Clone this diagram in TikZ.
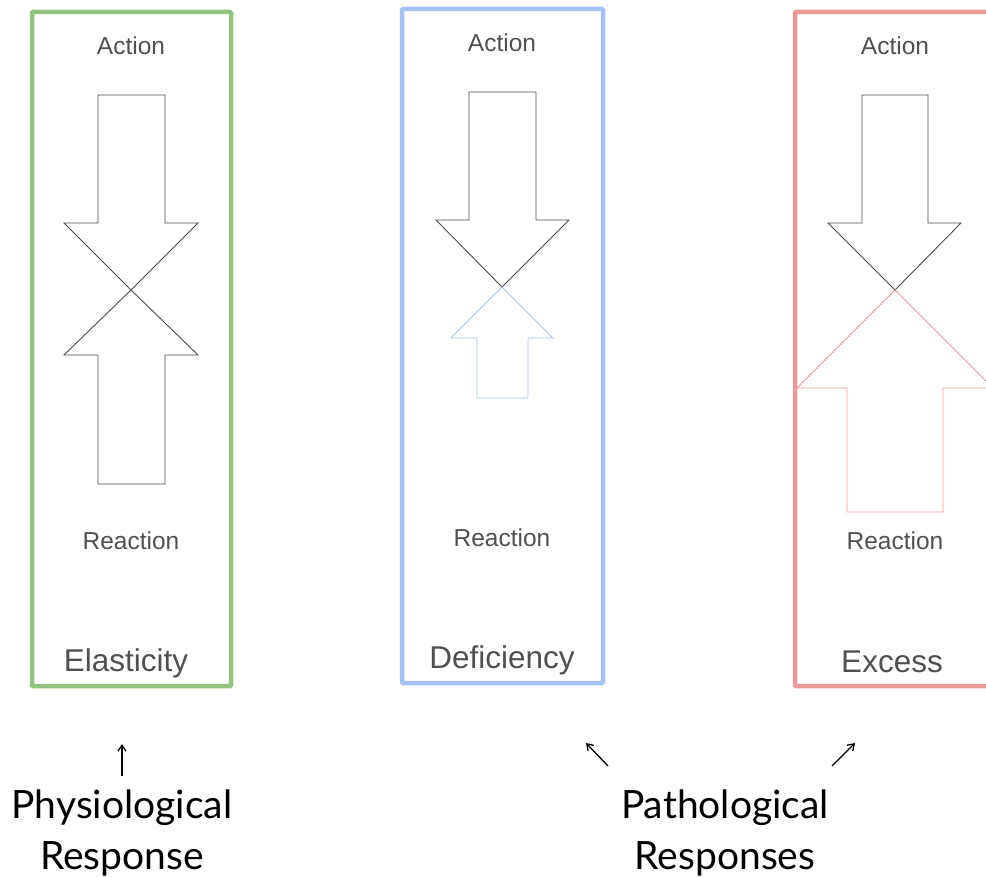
\documentclass[tikz,border=0pt]{standalone}
\usepackage{fontspec}
\setmainfont{Liberation Sans}
\newfontfamily\capfont{Lato}
\usetikzlibrary{arrows.meta}
\definecolor{elascol}{RGB}{147,196,125}
\definecolor{deficol}{RGB}{164,194,244}
\definecolor{excecol}{RGB}{234,153,153}
\definecolor{textgray}{RGB}{80,80,80}

\begin{document}
\begin{tikzpicture}[x=1pt,y=-1pt,
    frame/.style={line width=4.5pt,rounded corners=1pt},
    arrowshape/.style={line width=0.9pt,line join=miter},
    small/.style={font=\fontsize{24.5}{28}\selectfont,text=textgray},
    title/.style={font=\fontsize{31.5}{36}\selectfont,text=textgray},
    caption/.style={font=\capfont\fontsize{39}{51}\selectfont,align=center},
    pointer/.style={-{Straight Barb[length=6pt,width=8pt]},line width=1.3pt}]
  \useasboundingbox (0,0) rectangle (986,877);
  \clip (0,0) rectangle (986,877);
  % elasticity
  \draw[frame,elascol](32,12) rectangle (231,686);
  \draw[arrowshape,black!70](98,95)--(165,95)--(165,223)--(198,223)--(131,290)
    --(64,223)--(98,223)--cycle;
  \draw[arrowshape,black!70](131,290)--(198,355)--(165,355)--(165,484)--(98,484)
    --(98,355)--(64,355)--cycle;
  \node[small] (actA) at (131,46){Action};
  \node[small] (reactA) at (131,541){Reaction};
  \node[title] (elas) at (126,663){Elasticity};
  % deficiency
  \draw[frame,deficol](402,9) rectangle (603,683);
  \draw[arrowshape,black!70](469,92)--(536,92)--(536,220)--(569,220)--(502,287)
    --(436,220)--(469,220)--cycle;
  \draw[arrowshape,deficol](502,287)--(553,338)--(528,338)--(528,398)--(477,398)
    --(477,338)--(451,338)--cycle;
  \node[small] (actB) at (502,43){Action};
  \node[small] (reactB) at (502,538){Reaction};
  \node[title] (defi) at (502,660){Deficiency};
  % excess
  \draw[frame,excecol](795,12) rectangle (1000,686);
  \draw[arrowshape,black!70](862,95)--(928,95)--(928,223)--(961,223)--(895,290)
    --(828,223)--(862,223)--cycle;
  \draw[arrowshape,excecol](895,290)--(993,388)--(943,388)--(943,512)--(847,512)
    --(847,388)--(797,388)--cycle;
  \node[small] (actC) at (895,46){Action};
  \node[small] (reactC) at (895,541){Reaction};
  \node[title] (exce) at (892,662){Excess};
  % captions
  \node[caption] (physio) at (122,833){Physiological\\Response};
  \node[caption] (patho) at (725,833){Pathological\\Responses};
  \coordinate (pA) at (122,776);
  \coordinate (pB) at (608,766);
  \coordinate (pC) at (832,766);
  \draw[pointer](pA)--++(0,-32);
  \draw[pointer](pB)--++(-22,-23);
  \draw[pointer](pC)--++(23,-23);
\end{tikzpicture}
\end{document}
